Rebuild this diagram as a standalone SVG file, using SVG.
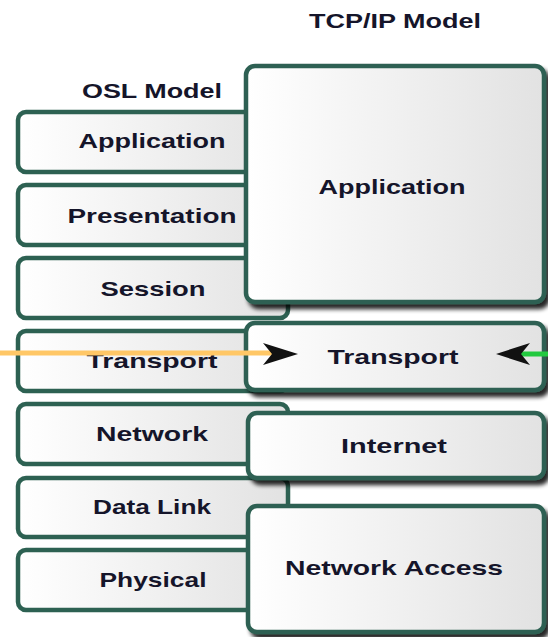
<svg xmlns="http://www.w3.org/2000/svg" width="548" height="637" viewBox="0 0 548 637">
<style>
.box{fill:url(#g);stroke:#2d6152;stroke-width:4.5}
.t{font-family:"Liberation Sans",Arial,sans-serif;font-weight:bold;font-size:21px;fill:#15152a;text-anchor:middle}
</style>
<defs>
<linearGradient id="g" x1="0" y1="0" x2="1" y2="0">
<stop offset="0" stop-color="#ffffff"/>
<stop offset="1" stop-color="#e2e2e2"/>
</linearGradient>
<filter id="sh" x="-10%" y="-10%" width="130%" height="130%">
<feGaussianBlur in="SourceAlpha" stdDeviation="2"/>
<feOffset dx="4" dy="5" result="b"/>
<feComponentTransfer><feFuncA type="linear" slope="0.85"/></feComponentTransfer>
<feMerge><feMergeNode/><feMergeNode in="SourceGraphic"/></feMerge>
</filter>
</defs>
<rect width="548" height="637" fill="#ffffff"/>
<text class="t" x="152" y="98" textLength="140" lengthAdjust="spacingAndGlyphs">OSL Model</text>
<text class="t" x="395" y="28" textLength="172" lengthAdjust="spacingAndGlyphs">TCP/IP Model</text>
<g id="osi-application"><rect class="box" x="18" y="112" width="270" height="60" rx="8"/><text class="t" x="152" y="148" textLength="147" lengthAdjust="spacingAndGlyphs">Application</text></g>
<g id="osi-presentation"><rect class="box" x="18" y="185" width="270" height="60" rx="8"/><text class="t" x="152" y="223" textLength="169" lengthAdjust="spacingAndGlyphs">Presentation</text></g>
<g id="osi-session"><rect class="box" x="18" y="258" width="270" height="60" rx="8"/><text class="t" x="153" y="296" textLength="105" lengthAdjust="spacingAndGlyphs">Session</text></g>
<g id="osi-transport"><rect class="box" x="18" y="331" width="270" height="60" rx="8"/><text class="t" x="152" y="368" textLength="131" lengthAdjust="spacingAndGlyphs">Transport</text></g>
<g id="osi-network"><rect class="box" x="18" y="404" width="270" height="60" rx="8"/><text class="t" x="152" y="441" textLength="112" lengthAdjust="spacingAndGlyphs">Network</text></g>
<g id="osi-datalink"><rect class="box" x="18" y="478" width="270" height="59" rx="8"/><text class="t" x="152" y="514" textLength="118" lengthAdjust="spacingAndGlyphs">Data Link</text></g>
<g id="osi-physical"><rect class="box" x="18" y="550" width="270" height="60" rx="8"/><text class="t" x="153" y="587" textLength="107" lengthAdjust="spacingAndGlyphs">Physical</text></g>
<g id="tcp-application"><rect class="box" filter="url(#sh)" x="246" y="66" width="298" height="236" rx="9"/><text class="t" x="392" y="194" textLength="147" lengthAdjust="spacingAndGlyphs">Application</text></g>
<g id="tcp-transport"><rect class="box" filter="url(#sh)" x="246" y="323" width="298" height="67" rx="9"/><text class="t" x="393" y="364" textLength="131" lengthAdjust="spacingAndGlyphs">Transport</text></g>
<g id="tcp-internet"><rect class="box" filter="url(#sh)" x="248" y="413" width="296" height="65" rx="9"/><text class="t" x="394" y="453" textLength="106" lengthAdjust="spacingAndGlyphs">Internet</text></g>
<g id="tcp-networkaccess"><rect class="box" filter="url(#sh)" x="248" y="506" width="296" height="126" rx="9"/><text class="t" x="394" y="575" textLength="218" lengthAdjust="spacingAndGlyphs">Network Access</text></g>
<g id="connectors">
<line x1="0" y1="353" x2="272" y2="353" stroke="#ffc766" stroke-width="5"/>
<path d="M263,343 L298,354 L263,365 L272,354 Z" fill="#111"/>
<line x1="548" y1="354" x2="515" y2="354" stroke="#22c93f" stroke-width="5"/>
<path d="M530,343 L496,354 L530,365 L521,354 Z" fill="#111"/>
</g>
</svg>
